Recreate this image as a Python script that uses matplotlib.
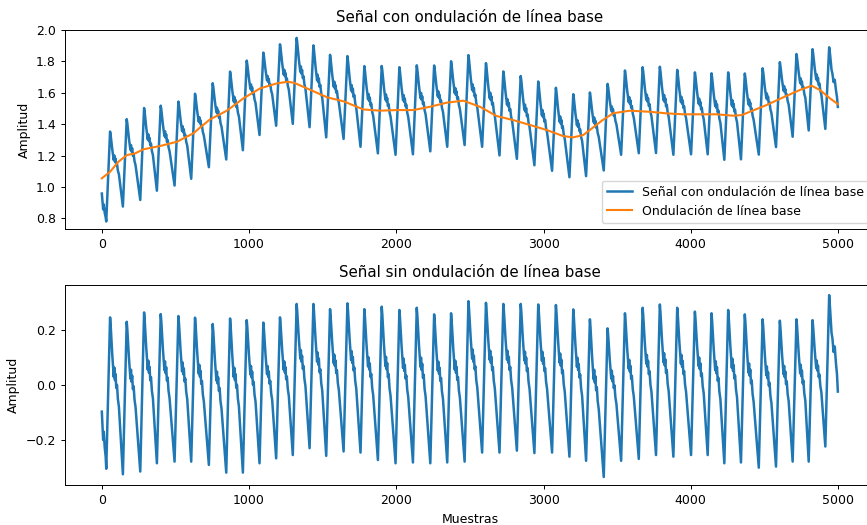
import numpy as np
import matplotlib
matplotlib.use("Agg")
import matplotlib.pyplot as plt

# ---- data ----
peak_samples = [56, 169, 287, 400, 520, 633, 753, 871, 984, 1097,
                1210, 1323, 1437, 1550, 1668, 1783, 1901, 2021, 2139, 2257,
                2372, 2490, 2609, 2727, 2845, 2964, 3084, 3202, 3315, 3435,
                3553, 3673, 3790, 3908, 4028, 4141, 4254, 4367, 4488, 4605,
                4718, 4827, 4940]

# signal without baseline wander (bottom panel)
clean_peaks = [0.246, 0.230, 0.264, 0.258, 0.251, 0.245, 0.222, 0.242, 0.236, 0.227,
               0.246, 0.295, 0.295, 0.276, 0.297, 0.276, 0.285, 0.273, 0.281, 0.257,
               0.261, 0.305, 0.299, 0.295, 0.295, 0.293, 0.291, 0.275, 0.239, 0.206,
               0.261, 0.281, 0.293, 0.281, 0.267, 0.261, 0.273, 0.257, 0.239, 0.234,
               0.239, 0.236, 0.327]
clean_troughs = [-0.325, -0.315, -0.285, -0.279, -0.279, -0.291, -0.319, -0.319, -0.285, -0.267,
                 -0.255, -0.230, -0.258, -0.242, -0.246, -0.273, -0.285, -0.282, -0.285, -0.282,
                 -0.279, -0.246, -0.246, -0.239, -0.248, -0.246, -0.261, -0.276, -0.335, -0.276,
                 -0.269, -0.255, -0.261, -0.255, -0.255, -0.285, -0.282, -0.301, -0.297, -0.279,
                 -0.279, -0.224]

# signal with baseline wander (top panel)
wander_peaks = [1.353, 1.432, 1.503, 1.518, 1.544, 1.594, 1.661, 1.735, 1.805, 1.856,
                1.909, 1.950, 1.902, 1.842, 1.834, 1.770, 1.771, 1.763, 1.775, 1.774,
                1.801, 1.840, 1.789, 1.736, 1.707, 1.672, 1.632, 1.591, 1.602, 1.657,
                1.742, 1.763, 1.766, 1.746, 1.730, 1.724, 1.730, 1.723, 1.756, 1.795,
                1.847, 1.878, 1.890]
wander_troughs = [0.875, 0.917, 0.976, 1.009, 1.052, 1.126, 1.175, 1.234, 1.331, 1.390,
                  1.402, 1.381, 1.316, 1.306, 1.256, 1.214, 1.205, 1.208, 1.227, 1.256,
                  1.267, 1.256, 1.201, 1.179, 1.138, 1.103, 1.062, 1.069, 1.105, 1.205,
                  1.215, 1.216, 1.205, 1.208, 1.208, 1.173, 1.176, 1.206, 1.254, 1.320,
                  1.360, 1.370]

head_samples = [0, 5, 9, 13, 20, 26, 30]
clean_head = [-0.097, -0.150, -0.200, -0.170, -0.230, -0.260, -0.305]
wander_head = [0.958, 0.906, 0.857, 0.889, 0.833, 0.807, 0.780]

tail_samples = [4946, 4956, 4962, 4970, 4978, 4986, 4993, 4999]
clean_tail = [0.280, 0.190, 0.170, 0.120, 0.140, 0.080, 0.040, -0.024]
wander_tail = [1.846, 1.748, 1.723, 1.668, 1.683, 1.618, 1.573, 1.510]

# one beat: offsets after the peak and level
# between the next trough (0) and the peak (1)
shape_offsets = [4, 9, 15, 21, 25, 29, 33, 37, 42, 47, 53, 60]
shape_levels = [0.95, 0.86, 0.76, 0.67, 0.62, 0.68, 0.60, 0.64, 0.55, 0.57, 0.48, 0.43]
rise_samples = 26

baseline_samples = [0, 56, 113, 170, 226, 283, 396, 510, 622, 679, 736, 849, 962,
                    1075, 1188, 1260, 1305, 1418, 1531, 1644, 1776, 1889, 2002,
                    2115, 2229, 2342, 2455, 2568, 2681, 2794, 2908, 3021, 3134,
                    3202, 3270, 3338, 3400, 3474, 3587, 3722, 3836, 3948, 4062,
                    4175, 4288, 4345, 4401, 4515, 4628, 4741, 4821, 4877, 4945, 4999]
baseline_values = [1.055, 1.097, 1.161, 1.203, 1.214, 1.240, 1.261, 1.288, 1.342,
                   1.388, 1.431, 1.486, 1.565, 1.628, 1.660, 1.670, 1.664, 1.618,
                   1.571, 1.545, 1.494, 1.486, 1.490, 1.490, 1.511, 1.537, 1.550,
                   1.511, 1.452, 1.426, 1.395, 1.363, 1.324, 1.316, 1.331, 1.380,
                   1.425, 1.470, 1.486, 1.479, 1.469, 1.463, 1.463, 1.463, 1.454,
                   1.458, 1.479, 1.522, 1.571, 1.618, 1.645, 1.618, 1.565, 1.528]

title_top = "Señal con ondulación de línea base"
title_bottom = "Señal sin ondulación de línea base"
legend_labels = ["Señal con ondulación de línea base", "Ondulación de línea base"]


def build(peaks, troughs, head, tail):
    xs = list(head_samples)
    ys = list(head)
    n = len(peak_samples)
    for i in range(n):
        s, p = peak_samples[i], peaks[i]
        xs.append(s)
        ys.append(p)
        if i < n - 1:
            t = troughs[i]
            for off, lvl in zip(shape_offsets, shape_levels):
                xs.append(s + off)
                ys.append(t + lvl * (p - t))
            xs.append(peak_samples[i + 1] - rise_samples)
            ys.append(t)
    xs.extend(tail_samples)
    ys.extend(tail)
    return np.array(xs), np.array(ys)


plt.rcParams['font.family'] = ['DejaVu Sans']
plt.rcParams['font.size'] = 9
plt.rcParams['axes.linewidth'] = 0.7
plt.rcParams['xtick.major.width'] = 0.7
plt.rcParams['ytick.major.width'] = 0.7
plt.rcParams['xtick.major.size'] = 3
plt.rcParams['ytick.major.size'] = 3

fig = plt.figure(figsize=(8.67, 5.25), dpi=100)
ax1 = fig.add_axes([0.075, 0.5638, 0.934, 0.379])
ax2 = fig.add_axes([0.075, 0.0762, 0.934, 0.381])

blue = '#1f77b4'
orange = '#ff7f0e'

xw, yw = build(wander_peaks, wander_troughs, wander_head, wander_tail)
ax1.plot(xw, yw, color=blue, lw=1.8, label=legend_labels[0])
ax1.plot(baseline_samples, baseline_values, color=orange, lw=1.5, label=legend_labels[1])
ax1.set_title(title_top, fontsize=10.8)
ax1.set_ylabel("Amplitud")
ax1.set_ylim(0.732, 2.0)
ax1.set_xlim(-250, 5250)
ax1.set_xticks([0, 1000, 2000, 3000, 4000, 5000])
ax1.set_yticks([0.8, 1.0, 1.2, 1.4, 1.6, 1.8, 2.0])
ax1.legend(loc='lower right')

xc, yc = build(clean_peaks, clean_troughs, clean_head, clean_tail)
ax2.plot(xc, yc, color=blue, lw=1.8)
ax2.set_title(title_bottom, fontsize=10.8)
ax2.set_ylabel("Amplitud")
ax2.set_xlabel("Muestras")
ax2.set_ylim(-0.364, 0.364)
ax2.set_xlim(-250, 5250)
ax2.set_xticks([0, 1000, 2000, 3000, 4000, 5000])
ax2.set_yticks([-0.2, 0.0, 0.2])

fig.savefig("out.png", dpi=100)
